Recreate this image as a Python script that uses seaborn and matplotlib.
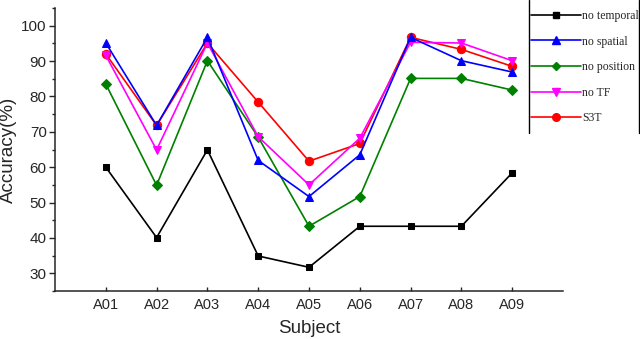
import matplotlib
matplotlib.use('Agg')
import matplotlib.pyplot as plt
import seaborn as sns
import pandas as pd
import numpy as np
from matplotlib.lines import Line2D
from matplotlib.ticker import MultipleLocator

# 数据
subjects = ['A01', 'A02', 'A03', 'A04', 'A05', 'A06', 'A07', 'A08', 'A09']
no_temporal = [60.0, 40.1, 64.9, 34.9, 31.7, 43.3, 43.3, 43.3, 58.4]
no_spatial = [95.1, 71.8, 96.7, 61.9, 51.7, 63.5, 96.7, 90.1, 86.9]
no_position = [83.5, 54.9, 90.1, 68.5, 43.3, 51.7, 85.1, 85.1, 81.8]
no_tf = [91.6, 64.9, 95.1, 68.6, 55.0, 68.2, 95.3, 95.1, 90.1]
s3t = [92.0, 71.8, 95.1, 78.4, 61.7, 66.7, 96.7, 93.3, 88.5]

series = {
    'no temporal': no_temporal,
    'no spatial': no_spatial,
    'no position': no_position,
    'no TF': no_tf,
    'S3T': s3t,
}
colors = {'no temporal': 'black', 'no spatial': '#0000ff', 'no position': '#008000',
          'no TF': '#ff00ff', 'S3T': '#ff0000'}
markers = {'no temporal': 's', 'no spatial': '^', 'no position': 'D',
           'no TF': 'v', 'S3T': 'o'}
msizes = {'no temporal': 5, 'no spatial': 6, 'no position': 5, 'no TF': 6, 'S3T': 6}
draw_order = ['no temporal', 'no position', 'S3T', 'no TF', 'no spatial']

sns.set_style('ticks')
plt.rcParams['font.family'] = ['Liberation Sans', 'DejaVu Sans']

fig = plt.figure(figsize=(6.4, 3.39), dpi=100)
ax = fig.add_axes([55 / 640, 1 - 291 / 339, (563 - 55) / 640, (291 - 8) / 339])

x = np.arange(1, len(subjects) + 1)
for name in draw_order:
    df = pd.DataFrame({'x': x, 'y': series[name]})
    sns.lineplot(data=df, x='x', y='y', ax=ax, color=colors[name], marker=markers[name],
                 markersize=msizes[name], markeredgecolor=colors[name], linewidth=1.2,
                 zorder=3)

ax.set_xlim(0, 10)
ax.set_ylim(25, 105)
ax.set_xticks(x)
ax.set_xticklabels(subjects, fontsize=10.5)
ax.yaxis.set_major_locator(MultipleLocator(10))
ax.yaxis.set_minor_locator(MultipleLocator(5))
ax.set_yticks(np.arange(30, 101, 10))
ax.tick_params(axis='y', which='major', direction='out', length=4, width=1, labelsize=11, pad=2)
ax.tick_params(axis='y', which='minor', direction='out', length=2.5, width=1)
ax.tick_params(axis='x', which='major', direction='in', length=3, width=1, pad=5)
for s in ['top', 'right']:
    ax.spines[s].set_visible(False)
for s in ['left', 'bottom']:
    ax.spines[s].set_linewidth(1.1)
ax.set_xlabel('Subject', fontsize=13.5, labelpad=6)
ax.set_ylabel('Accuracy(%)', fontsize=13.5, labelpad=3)
ax.grid(False)

# 图例
handles = [Line2D([0], [0], color=colors[n], marker=markers[n], markersize=msizes[n] - 0.5,
                  linewidth=1.2) for n in series]
fig.legend(handles, list(series.keys()), loc='upper left',
           bbox_to_anchor=(531 / 640, 1 - 10 / 339), bbox_transform=fig.transFigure,
           frameon=False, borderpad=0, borderaxespad=0, handlelength=4.2,
           handletextpad=0.1, labelspacing=1.15, prop={'family': 'Liberation Serif', 'size': 8.5})
fig.add_artist(Line2D([529 / 640, 529 / 640], [1 - 133 / 339, 1], transform=fig.transFigure,
                      color='black', linewidth=1))
fig.add_artist(Line2D([639 / 640, 639 / 640], [1 - 133 / 339, 1], transform=fig.transFigure,
                      color='black', linewidth=1))

fig.savefig('out.png', dpi=100)
